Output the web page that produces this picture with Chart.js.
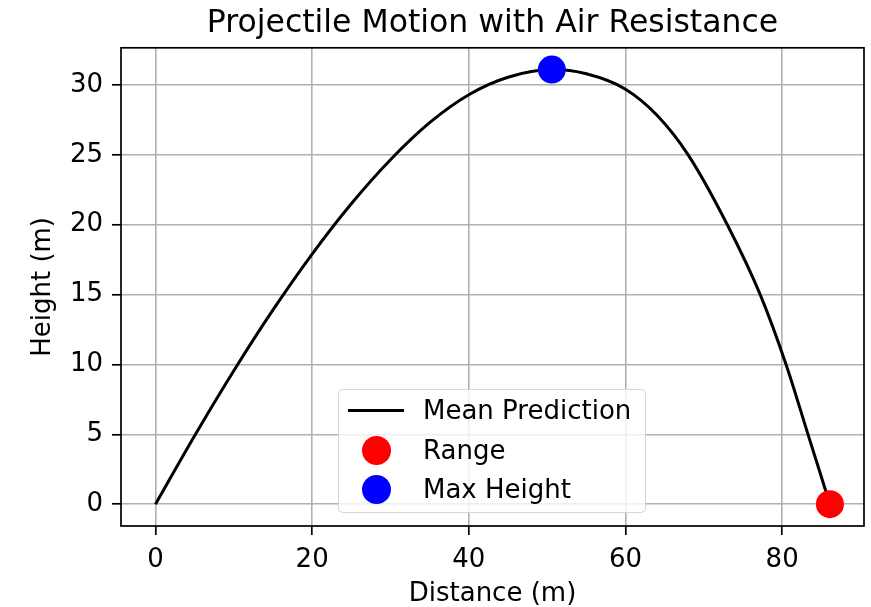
<!DOCTYPE html>
<html>
<head>
<meta charset="utf-8">
<title>Projectile Motion with Air Resistance</title>
<script src="https://cdn.jsdelivr.net/npm/chart.js@4.4.1/dist/chart.umd.min.js"></script>
<style>
  body { margin: 0; background: #fff; overflow: hidden; }
  #wrap { position: relative; width: 871px; height: 607px; }
  #chart { display: block; }
  #legend {
    position: absolute; left: 338px; top: 389px; width: 306px; height: 122px;
    border: 1.5px solid rgba(204, 204, 204, 0.8); border-radius: 5px;
    background: rgba(255, 255, 255, 0.8);
    font-family: 'DejaVu Sans', sans-serif; font-size: 26px; color: #000;
  }
  .row { position: absolute; left: 0; height: 30px; line-height: 30px; width: 100%; }
  .row .line { position: absolute; left: 9px; top: 13.5px; width: 56px; height: 3px; }
  .row .dot { position: absolute; left: 23px; top: 0.5px; width: 29px; height: 29px; border-radius: 50%; }
  .row .txt { position: absolute; left: 84px; top: 0; white-space: nowrap; }
</style>
</head>
<body>
<div id="wrap">
  <canvas id="chart" width="871" height="607"></canvas>
  <div id="legend"></div>
</div>
<script>
// trajectory (metres)
const distance = [0, 5, 10, 15, 20, 25, 30, 35, 40, 45, 50.6, 55, 60, 64, 68, 73, 77.2, 80.5, 83.3, 86.1];
const height   = [0, 4.9, 9.55, 13.9, 17.9, 21.5, 24.65, 27.3, 29.3, 30.55, 31.1, 30.8, 29.7, 27.85, 25, 20, 15, 10, 5, 0];

const rangePoint = [86.1, 0];
const maxHeightPoint = [50.6, 31.1];

const xTicks = [0, 20, 40, 60, 80];
const yTicks = [0, 5, 10, 15, 20, 25, 30];

const FONT = "'DejaVu Sans', sans-serif";
Chart.defaults.font.family = FONT;
Chart.defaults.color = '#000';

// black box round the plot area, like the axes spines
const frame = {
  id: 'frame',
  afterDraw(chart) {
    const { ctx, chartArea: a } = chart;
    ctx.save();
    ctx.strokeStyle = '#000';
    ctx.lineWidth = 1.7;
    ctx.strokeRect(a.left, a.top, a.right - a.left, a.bottom - a.top);
    ctx.restore();
  }
};

const gridStyle = { color: '#b0b0b0', lineWidth: 1.6, tickColor: '#000', tickLength: 9, tickWidth: 1.7 };

const chart = new Chart(document.getElementById('chart'), {
  type: 'scatter',
  data: {
    datasets: [
      {
        label: 'Mean Prediction',
        data: distance.map((d, i) => ({ x: d, y: height[i] })),
        showLine: true,
        borderColor: '#000',
        borderWidth: 3,
        pointRadius: 0,
        cubicInterpolationMode: 'monotone',
        order: 3
      },
      {
        label: 'Range',
        data: [{ x: rangePoint[0], y: rangePoint[1] }],
        backgroundColor: '#ff0000',
        borderWidth: 0,
        pointRadius: 14,
        order: 1
      },
      {
        label: 'Max Height',
        data: [{ x: maxHeightPoint[0], y: maxHeightPoint[1] }],
        backgroundColor: '#0000ff',
        borderWidth: 0,
        pointRadius: 14,
        order: 2
      }
    ]
  },
  options: {
    responsive: false,
    animation: false,
    devicePixelRatio: 1,
    layout: { autoPadding: false, padding: { top: 0, right: 7, bottom: 0, left: 0 } },
    plugins: {
      legend: { display: false },
      tooltip: { enabled: false },
      title: {
        display: true,
        text: 'Projectile Motion with Air Resistance',
        fullSize: false,
        color: '#000',
        font: { size: 31.5, weight: 'normal', lineHeight: 1.2 },
        padding: { top: 5, bottom: 5 }
      }
    },
    scales: {
      x: {
        type: 'linear',
        min: -4.4,
        max: 90.45,
        afterBuildTicks: s => { s.ticks = xTicks.map(v => ({ value: v })); },
        afterFit: s => { s.height = 81; s.paddingLeft = 0; s.paddingRight = 0; },
        grid: gridStyle,
        border: { display: false },
        ticks: { font: { size: 26 }, padding: 10, maxRotation: 0, autoSkip: false, color: '#000' },
        title: { display: true, text: 'Distance (m)', color: '#000', font: { size: 26, lineHeight: 1 }, padding: { top: 0, bottom: 0 } }
      },
      y: {
        type: 'linear',
        min: -1.56,
        max: 32.66,
        afterBuildTicks: s => { s.ticks = yTicks.map(v => ({ value: v })); },
        afterFit: s => { s.width = 121; s.paddingTop = 0; s.paddingBottom = 0; },
        grid: gridStyle,
        border: { display: false },
        ticks: { font: { size: 26 }, padding: 9, autoSkip: false, color: '#000' },
        title: { display: true, text: 'Height (m)', color: '#000', font: { size: 26, lineHeight: 1 }, padding: { top: 30, bottom: 0 } }
      }
    }
  },
  plugins: [frame]
});

// legend box in the lower middle of the plot, built from the datasets
const legendEl = document.getElementById('legend');
const rowTops = [5, 45, 84];
chart.data.datasets.forEach((ds, i) => {
  const row = document.createElement('div');
  row.className = 'row';
  row.style.top = rowTops[i] + 'px';
  const handle = document.createElement('div');
  if (ds.showLine) {
    handle.className = 'line';
    handle.style.background = ds.borderColor;
  } else {
    handle.className = 'dot';
    handle.style.background = ds.backgroundColor;
  }
  const txt = document.createElement('span');
  txt.className = 'txt';
  txt.textContent = ds.label;
  row.appendChild(handle);
  row.appendChild(txt);
  legendEl.appendChild(row);
});
</script>
</body>
</html>
